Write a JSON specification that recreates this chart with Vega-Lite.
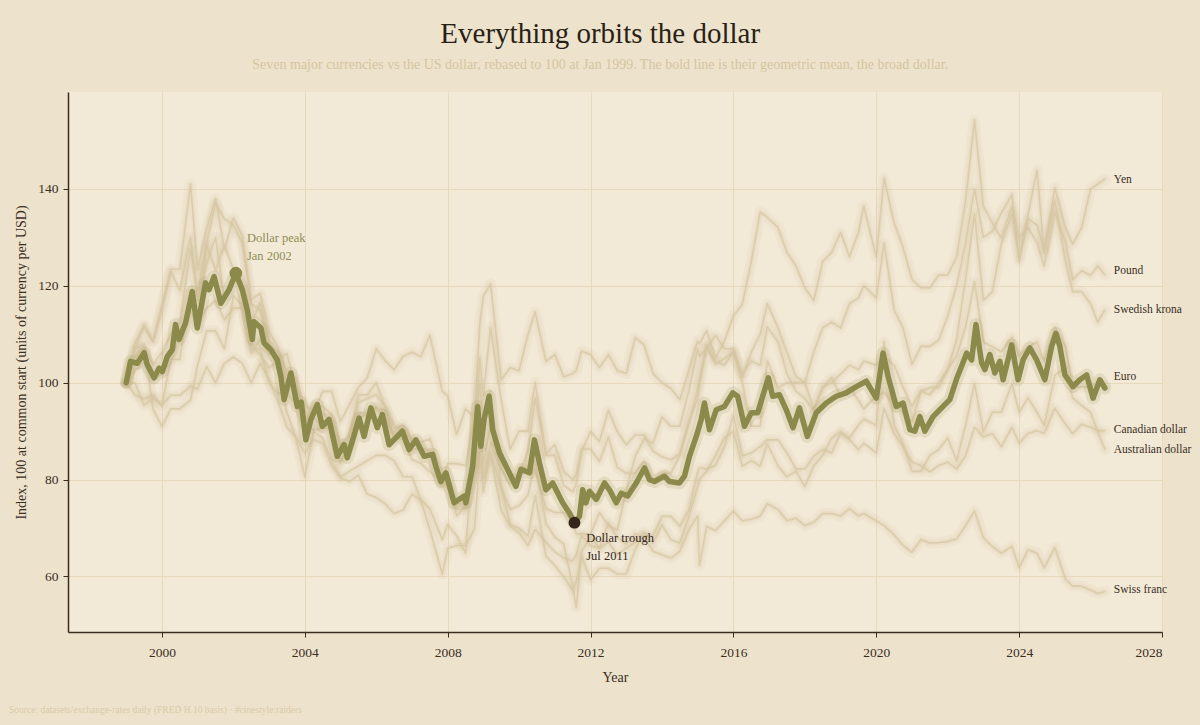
{
  "$schema": "https://vega.github.io/schema/vega-lite/v6.json",
  "width": 1094,
  "height": 540,
  "autosize": {"type": "none"},
  "padding": {"left": 68, "top": 92, "right": 38, "bottom": 93},
  "background": "#ede3cc",
  "title": {
    "text": "Everything orbits the dollar",
    "subtitle": "Seven major currencies vs the US dollar, rebased to 100 at Jan 1999. The bold line is their geometric mean, the broad dollar.",
    "anchor": "middle",
    "frame": "bounds",
    "offset": 20,
    "fontSize": 29,
    "fontWeight": "normal",
    "color": "#2a1f14",
    "subtitleFontSize": 14,
    "subtitleColor": "#d4c5a1",
    "subtitlePadding": 9,
    "font": "Liberation Serif",
    "subtitleFont": "Liberation Serif"
  },
  "config": {
    "font": "Liberation Serif",
    "view": {"fill": "#f2ead7", "stroke": null},
    "axis": {
      "domainColor": "#3b2e1e",
      "domainWidth": 1.5,
      "tickColor": "#3b2e1e",
      "tickSize": 5,
      "labelColor": "#3b2e1e",
      "labelFontSize": 13.5,
      "titleColor": "#3b2e1e",
      "titleFontSize": 14,
      "titleFontWeight": "normal",
      "gridColor": "#e6d9bc",
      "gridWidth": 1,
      "labelFont": "Liberation Serif",
      "titleFont": "Liberation Serif"
    }
  },
  "datasets": {
    "fx": [
      {"t":1999.0,"eur":100,"jpy":100,"gbp":100,"chf":100,"cad":100,"aud":100,"sek":100},
      {"t":1999.25,"eur":108.4,"jpy":107,"gbp":102.5,"chf":107,"cad":97.4,"aud":100,"sek":105},
      {"t":1999.5,"eur":111.5,"jpy":108,"gbp":104.4,"chf":112,"cad":96.7,"aud":95.3,"sek":107.5},
      {"t":1999.75,"eur":108.4,"jpy":94.6,"gbp":100.6,"chf":108.7,"cad":97.4,"aud":96.8,"sek":103.8},
      {"t":2000.0,"eur":114.9,"jpy":91,"gbp":101.9,"chf":116,"cad":95.4,"aud":95.3,"sek":106.3},
      {"t":2000.25,"eur":123.4,"jpy":94.6,"gbp":104.4,"chf":123,"cad":97.4,"aud":104.8,"sek":110},
      {"t":2000.5,"eur":123.4,"jpy":94.6,"gbp":110,"chf":119,"cad":97.4,"aud":104.8,"sek":112.5},
      {"t":2000.8,"eur":141,"jpy":96.4,"gbp":114.6,"chf":130,"cad":99.3,"aud":118.7,"sek":127.5},
      {"t":2001.0,"eur":123.4,"jpy":103.6,"gbp":112.2,"chf":117,"cad":98.7,"aud":112.3,"sek":118.8},
      {"t":2001.25,"eur":131.8,"jpy":110.7,"gbp":115.4,"chf":124.6,"cad":103.3,"aud":128.4,"sek":128.8},
      {"t":2001.5,"eur":138,"jpy":110.7,"gbp":117,"chf":130,"cad":100,"aud":123.3,"sek":137},
      {"t":2001.75,"eur":127.5,"jpy":107,"gbp":113,"chf":117,"cad":104,"aud":128.4,"sek":133.8},
      {"t":2002.0,"eur":134,"jpy":117.9,"gbp":115.4,"chf":121.7,"cad":105.3,"aud":123.3,"sek":132.5},
      {"t":2002.25,"eur":130.3,"jpy":116,"gbp":115.4,"chf":119.6,"cad":104,"aud":118.7,"sek":128.8},
      {"t":2002.5,"eur":117.2,"jpy":106,"gbp":107.8,"chf":107,"cad":100,"aud":112.3,"sek":116.3},
      {"t":2002.75,"eur":118.4,"jpy":109,"gbp":105.8,"chf":107,"cad":104,"aud":116.5,"sek":115},
      {"t":2003.0,"eur":110.5,"jpy":106,"gbp":103.1,"chf":100,"cad":100.7,"aud":108.4,"sek":107.5},
      {"t":2003.25,"eur":107.4,"jpy":105,"gbp":104.4,"chf":97.8,"cad":96,"aud":103.1,"sek":106.3},
      {"t":2003.5,"eur":101.8,"jpy":106,"gbp":100,"chf":97.8,"cad":90.8,"aud":93.9,"sek":100},
      {"t":2003.75,"eur":100.9,"jpy":99,"gbp":98.2,"chf":95.7,"cad":88.8,"aud":88.6,"sek":97.5},
      {"t":2004.0,"eur":92.1,"jpy":95.5,"gbp":91.7,"chf":89.9,"cad":85.5,"aud":80.6,"sek":91.3},
      {"t":2004.25,"eur":95.1,"jpy":93.8,"gbp":90.2,"chf":92.8,"cad":88.2,"aud":89.9,"sek":95},
      {"t":2004.5,"eur":95.1,"jpy":98.2,"gbp":90.7,"chf":90.6,"cad":87.5,"aud":88.6,"sek":93.8},
      {"t":2004.75,"eur":93.5,"jpy":98.2,"gbp":91.7,"chf":90.6,"cad":82.9,"aud":83.9,"sek":91.3},
      {"t":2005.0,"eur":87.2,"jpy":92,"gbp":86.8,"chf":83.3,"cad":80.3,"aud":80.6,"sek":83.8},
      {"t":2005.25,"eur":89.2,"jpy":95.5,"gbp":87.3,"chf":87,"cad":79.6,"aud":81.7,"sek":87.5},
      {"t":2005.5,"eur":95.9,"jpy":99,"gbp":93.8,"chf":92.8,"cad":80.9,"aud":82.8,"sek":97.5},
      {"t":2005.75,"eur":96.7,"jpy":101,"gbp":93.8,"chf":93.5,"cad":77,"aud":83.9,"sek":97.5},
      {"t":2006.0,"eur":97.5,"jpy":107,"gbp":94.8,"chf":95,"cad":76.3,"aud":85,"sek":100},
      {"t":2006.25,"eur":95.1,"jpy":104.5,"gbp":92.7,"chf":94.2,"cad":75,"aud":85,"sek":95},
      {"t":2006.5,"eur":90.6,"jpy":102.7,"gbp":89.2,"chf":88.4,"cad":73,"aud":83.9,"sek":91.3},
      {"t":2006.75,"eur":91.3,"jpy":105.4,"gbp":88.2,"chf":90.6,"cad":73.7,"aud":80.6,"sek":90},
      {"t":2007.0,"eur":87.9,"jpy":106.3,"gbp":84.2,"chf":88.4,"cad":77,"aud":80.6,"sek":86.3},
      {"t":2007.25,"eur":86.6,"jpy":105.4,"gbp":83.3,"chf":87.7,"cad":75.7,"aud":75.8,"sek":86.3},
      {"t":2007.5,"eur":85.9,"jpy":109.8,"gbp":81.7,"chf":88.4,"cad":69.7,"aud":74,"sek":85},
      {"t":2007.85,"eur":78.9,"jpy":98.2,"gbp":79.3,"chf":81.2,"cad":60.5,"aud":67.6,"sek":78.8},
      {"t":2008.0,"eur":78.9,"jpy":97.3,"gbp":83.3,"chf":80.4,"cad":65.8,"aud":70.7,"sek":80},
      {"t":2008.25,"eur":73.9,"jpy":89.3,"gbp":83.3,"chf":72.5,"cad":66.4,"aud":68.4,"sek":75},
      {"t":2008.5,"eur":73.9,"jpy":94.6,"gbp":82.9,"chf":74.6,"cad":66.4,"aud":64.8,"sek":75},
      {"t":2008.75,"eur":82.9,"jpy":92.9,"gbp":92.7,"chf":81.2,"cad":69.7,"aud":89.9,"sek":87.5},
      {"t":2008.9,"eur":91.3,"jpy":86,"gbp":112.2,"chf":86.2,"cad":84.2,"aud":99.8,"sek":105},
      {"t":2009.0,"eur":83.5,"jpy":80.4,"gbp":117.9,"chf":77.5,"cad":80.3,"aud":91.2,"sek":97.5},
      {"t":2009.2,"eur":91.3,"jpy":87.5,"gbp":120.4,"chf":85.5,"cad":84.9,"aud":98.3,"sek":111.3},
      {"t":2009.5,"eur":82.3,"jpy":85.7,"gbp":100.6,"chf":78.3,"cad":73.7,"aud":78.6,"sek":96.3},
      {"t":2009.75,"eur":78.9,"jpy":80.4,"gbp":103.1,"chf":73.9,"cad":70.4,"aud":70.7,"sek":86.3},
      {"t":2010.0,"eur":81.1,"jpy":81.3,"gbp":102.5,"chf":74.6,"cad":69,"aud":69.9,"sek":90},
      {"t":2010.25,"eur":85.9,"jpy":83,"gbp":110,"chf":76.8,"cad":66.4,"aud":68.4,"sek":90},
      {"t":2010.45,"eur":96.7,"jpy":82,"gbp":114.6,"chf":84,"cad":69.7,"aud":76.7,"sek":100},
      {"t":2010.75,"eur":85.3,"jpy":74.1,"gbp":104.4,"chf":71,"cad":67.1,"aud":64.2,"sek":85},
      {"t":2011.0,"eur":87.2,"jpy":73.2,"gbp":105.8,"chf":68.1,"cad":65.1,"aud":62.3,"sek":85},
      {"t":2011.25,"eur":81.7,"jpy":73.2,"gbp":101.2,"chf":66.7,"cad":63.8,"aud":59.9,"sek":78.8},
      {"t":2011.5,"eur":80,"jpy":71.4,"gbp":101.9,"chf":58,"cad":63.2,"aud":57.2,"sek":77.5},
      {"t":2011.6,"eur":81,"jpy":68.8,"gbp":102.5,"chf":53.6,"cad":64.5,"aud":59,"sek":79},
      {"t":2011.75,"eur":85.9,"jpy":68.8,"gbp":106.5,"chf":65.2,"cad":68.4,"aud":64.2,"sek":86.3},
      {"t":2012.0,"eur":89.9,"jpy":68.8,"gbp":105.8,"chf":68.1,"cad":66.4,"aud":59.3,"sek":86.3},
      {"t":2012.25,"eur":87.9,"jpy":73.2,"gbp":103.1,"chf":65.9,"cad":65.8,"aud":61.7,"sek":83.8},
      {"t":2012.5,"eur":94.3,"jpy":70.5,"gbp":105.8,"chf":71,"cad":67.1,"aud":61.7,"sek":88.8},
      {"t":2012.75,"eur":89.9,"jpy":69.6,"gbp":102.5,"chf":68.1,"cad":64.5,"aud":60.5,"sek":82.5},
      {"t":2013.0,"eur":87.2,"jpy":77.7,"gbp":101.9,"chf":66.7,"cad":65.8,"aud":60.5,"sek":81.3},
      {"t":2013.25,"eur":89.2,"jpy":84.8,"gbp":109.3,"chf":68.8,"cad":67.1,"aud":65.5,"sek":81.3},
      {"t":2013.5,"eur":89.2,"jpy":88.4,"gbp":107.8,"chf":68.1,"cad":68.4,"aud":69.1,"sek":83.8},
      {"t":2013.75,"eur":85.9,"jpy":87.5,"gbp":101.9,"chf":65.2,"cad":68.4,"aud":66.9,"sek":80},
      {"t":2014.0,"eur":84.7,"jpy":92.9,"gbp":100,"chf":64.5,"cad":72.4,"aud":70.7,"sek":81.3},
      {"t":2014.25,"eur":84.1,"jpy":91,"gbp":98.8,"chf":63.8,"cad":72.4,"aud":67.6,"sek":81.3},
      {"t":2014.5,"eur":85.3,"jpy":91,"gbp":96.5,"chf":65.2,"cad":70.4,"aud":66.9,"sek":85},
      {"t":2014.75,"eur":92.1,"jpy":98.2,"gbp":102.5,"chf":69.6,"cad":73.7,"aud":72.3,"sek":91.3},
      {"t":2015.0,"eur":96.7,"jpy":107,"gbp":108.6,"chf":72.5,"cad":81.6,"aud":78.6,"sek":98.8},
      {"t":2015.05,"eur":99.5,"jpy":105.5,"gbp":108,"chf":62.3,"cad":82.5,"aud":80,"sek":101},
      {"t":2015.25,"eur":107.4,"jpy":107,"gbp":110.7,"chf":70.3,"cad":82.2,"aud":81.7,"sek":107.5},
      {"t":2015.5,"eur":104.5,"jpy":109.8,"gbp":105.1,"chf":69.5,"cad":82.9,"aud":85,"sek":103.8},
      {"t":2015.75,"eur":103.6,"jpy":107,"gbp":108.6,"chf":71.5,"cad":86.8,"aud":88.6,"sek":105},
      {"t":2016.0,"eur":106.4,"jpy":107,"gbp":113.8,"chf":73.5,"cad":93.4,"aud":89.9,"sek":106.3},
      {"t":2016.25,"eur":101.8,"jpy":100,"gbp":116.2,"chf":71.5,"cad":84.9,"aud":82.8,"sek":101.3},
      {"t":2016.5,"eur":104.5,"jpy":91,"gbp":125,"chf":71.8,"cad":85.5,"aud":83.9,"sek":106.3},
      {"t":2016.75,"eur":103.6,"jpy":91,"gbp":135.2,"chf":72.5,"cad":86.8,"aud":82.8,"sek":110},
      {"t":2016.95,"eur":111.5,"jpy":104.5,"gbp":134.1,"chf":75,"cad":88.2,"aud":87.4,"sek":116.3},
      {"t":2017.25,"eur":108.4,"jpy":99,"gbp":132,"chf":73.8,"cad":88.2,"aud":82.8,"sek":111.3},
      {"t":2017.5,"eur":101.8,"jpy":100,"gbp":126.9,"chf":71.5,"cad":85.5,"aud":80.6,"sek":106.3},
      {"t":2017.75,"eur":98.3,"jpy":100,"gbp":124.1,"chf":72,"cad":82.2,"aud":81.7,"sek":101.3},
      {"t":2018.0,"eur":96.7,"jpy":100,"gbp":119.6,"chf":70.5,"cad":82.2,"aud":78.6,"sek":100},
      {"t":2018.25,"eur":94.3,"jpy":94.6,"gbp":117,"chf":71.2,"cad":84.9,"aud":82.8,"sek":106.3},
      {"t":2018.5,"eur":99.1,"jpy":99,"gbp":125,"chf":73,"cad":86.2,"aud":85,"sek":111.3},
      {"t":2018.75,"eur":100,"jpy":101,"gbp":126.9,"chf":73,"cad":85.5,"aud":88.6,"sek":112.5},
      {"t":2019.0,"eur":101.8,"jpy":97.3,"gbp":131,"chf":72.5,"cad":89.5,"aud":89.9,"sek":111.3},
      {"t":2019.25,"eur":103.6,"jpy":99,"gbp":126,"chf":74,"cad":88.2,"aud":88.6,"sek":116.3},
      {"t":2019.5,"eur":102.7,"jpy":96.4,"gbp":131,"chf":72.5,"cad":86.2,"aud":91.2,"sek":117.5},
      {"t":2019.65,"eur":104.5,"jpy":94.6,"gbp":136.4,"chf":73,"cad":87.5,"aud":92.5,"sek":120},
      {"t":2020.0,"eur":103.6,"jpy":97.3,"gbp":126,"chf":71.5,"cad":85.5,"aud":91.2,"sek":117.5},
      {"t":2020.22,"eur":105.5,"jpy":98,"gbp":142.2,"chf":70.5,"cad":94.7,"aud":108.4,"sek":128.8},
      {"t":2020.5,"eur":103.6,"jpy":95.5,"gbp":133,"chf":68.6,"cad":89.5,"aud":91.2,"sek":115},
      {"t":2020.75,"eur":99.1,"jpy":93.8,"gbp":127.9,"chf":66.4,"cad":86.8,"aud":87.4,"sek":111.3},
      {"t":2021.0,"eur":95.1,"jpy":92,"gbp":121.3,"chf":65,"cad":83.6,"aud":81.7,"sek":103.8},
      {"t":2021.25,"eur":98.3,"jpy":98.2,"gbp":119.6,"chf":67.6,"cad":82.9,"aud":81.7,"sek":107.5},
      {"t":2021.5,"eur":97.5,"jpy":99,"gbp":119.6,"chf":66.9,"cad":81.6,"aud":85,"sek":107.5},
      {"t":2021.75,"eur":100,"jpy":99,"gbp":122.2,"chf":67,"cad":82.9,"aud":86.2,"sek":108.8},
      {"t":2022.0,"eur":102.7,"jpy":102.7,"gbp":122.2,"chf":67.2,"cad":83.6,"aud":88.6,"sek":113.8},
      {"t":2022.25,"eur":105.5,"jpy":109,"gbp":126,"chf":67.8,"cad":82.2,"aud":83.9,"sek":120},
      {"t":2022.5,"eur":111.5,"jpy":121.4,"gbp":137.5,"chf":70.5,"cad":84.9,"aud":91.2,"sek":128.8},
      {"t":2022.75,"eur":120.8,"jpy":134.8,"gbp":154.2,"chf":73.5,"cad":90.8,"aud":99.8,"sek":140},
      {"t":2023.0,"eur":108.4,"jpy":117,"gbp":136.4,"chf":68,"cad":88.8,"aud":89.9,"sek":130},
      {"t":2023.25,"eur":107.4,"jpy":118.8,"gbp":133,"chf":66.2,"cad":89.5,"aud":93.9,"sek":131.3},
      {"t":2023.5,"eur":106.4,"jpy":128.6,"gbp":129.9,"chf":64.8,"cad":86.8,"aud":93.9,"sek":135},
      {"t":2023.8,"eur":109.4,"jpy":134.8,"gbp":136.4,"chf":66.2,"cad":90.8,"aud":99.8,"sek":138.8},
      {"t":2024.0,"eur":105.5,"jpy":125.9,"gbp":129.9,"chf":61.8,"cad":87.5,"aud":93.9,"sek":125},
      {"t":2024.25,"eur":107.4,"jpy":134.8,"gbp":132,"chf":65.5,"cad":89.5,"aud":96.8,"sek":133.8},
      {"t":2024.5,"eur":108.4,"jpy":143.8,"gbp":128.9,"chf":64.8,"cad":90.1,"aud":93.9,"sek":132.5},
      {"t":2024.7,"eur":104.5,"jpy":126.8,"gbp":124.1,"chf":61.8,"cad":89.5,"aud":91.2,"sek":127.5},
      {"t":2025.0,"eur":111.5,"jpy":140.2,"gbp":135.2,"chf":66,"cad":94.7,"aud":101.5,"sek":137.5},
      {"t":2025.3,"eur":107.4,"jpy":132,"gbp":128.9,"chf":59.4,"cad":91.4,"aud":103.1,"sek":125},
      {"t":2025.5,"eur":99.1,"jpy":128.6,"gbp":121.3,"chf":58,"cad":89.5,"aud":96.8,"sek":118.8},
      {"t":2025.75,"eur":99.1,"jpy":132,"gbp":123.1,"chf":58,"cad":91.4,"aud":95.3,"sek":118.8},
      {"t":2026.0,"eur":99.1,"jpy":140,"gbp":122.2,"chf":57.2,"cad":90.8,"aud":93.9,"sek":116.3},
      {"t":2026.2,"eur":100,"jpy":141,"gbp":124.1,"chf":56.5,"cad":90.1,"aud":89.9,"sek":112.5},
      {"t":2026.4,"eur":99.1,"jpy":142,"gbp":122.2,"chf":56.9,"cad":90.1,"aud":86.2,"sek":115}
    ],
    "broad": [
      {"t":1999.0,"v":100},{"t":1999.12,"v":104.4},{"t":1999.31,"v":104},{"t":1999.5,"v":106.2},
      {"t":1999.59,"v":103.7},{"t":1999.78,"v":101},{"t":1999.92,"v":103},{"t":2000.01,"v":102.3},
      {"t":2000.15,"v":105.4},{"t":2000.29,"v":106.8},{"t":2000.38,"v":112},{"t":2000.48,"v":108.9},
      {"t":2000.66,"v":112.3},{"t":2000.85,"v":118.8},{"t":2000.99,"v":111.3},{"t":2001.22,"v":120.6},
      {"t":2001.32,"v":119.2},{"t":2001.46,"v":121.9},{"t":2001.65,"v":116.4},{"t":2001.88,"v":119.2},
      {"t":2002.07,"v":122.6},{"t":2002.25,"v":119.2},{"t":2002.39,"v":115},{"t":2002.53,"v":108.9},
      {"t":2002.58,"v":112.6},{"t":2002.77,"v":111.3},{"t":2002.86,"v":108.2},{"t":2003.05,"v":106.8},
      {"t":2003.23,"v":104.7},{"t":2003.33,"v":101.3},{"t":2003.42,"v":96.5},{"t":2003.61,"v":102},
      {"t":2003.79,"v":95.1},{"t":2003.9,"v":96},{"t":2004.03,"v":88.2},{"t":2004.17,"v":92.4},
      {"t":2004.35,"v":95.5},{"t":2004.49,"v":91},{"t":2004.68,"v":92.4},{"t":2004.91,"v":84.8},
      {"t":2005.1,"v":87.2},{"t":2005.19,"v":84.5},{"t":2005.33,"v":87.9},{"t":2005.52,"v":92.7},
      {"t":2005.66,"v":88.9},{"t":2005.85,"v":94.8},{"t":2006.03,"v":90.7},{"t":2006.17,"v":93.4},
      {"t":2006.36,"v":87.2},{"t":2006.55,"v":88.6},{"t":2006.73,"v":90},{"t":2006.92,"v":86.2},
      {"t":2007.11,"v":88.2},{"t":2007.34,"v":84.8},{"t":2007.58,"v":85.2},{"t":2007.67,"v":82.7},
      {"t":2007.81,"v":79.6},{"t":2007.95,"v":81.4},{"t":2008.18,"v":75.2},{"t":2008.46,"v":76.6},
      {"t":2008.51,"v":75.2},{"t":2008.7,"v":82.7},{"t":2008.84,"v":95.1},{"t":2008.93,"v":86.9},
      {"t":2009.02,"v":92.4},{"t":2009.16,"v":97.2},{"t":2009.26,"v":90.3},{"t":2009.45,"v":85.5},
      {"t":2009.68,"v":82.1},{"t":2009.91,"v":78.6},{"t":2010.05,"v":82.1},{"t":2010.29,"v":81.4},
      {"t":2010.43,"v":88.2},{"t":2010.57,"v":83.4},{"t":2010.75,"v":77.9},{"t":2010.94,"v":79.3},
      {"t":2011.22,"v":75.2},{"t":2011.41,"v":73.1},{"t":2011.55,"v":71.1},{"t":2011.69,"v":72.4},
      {"t":2011.78,"v":77.9},{"t":2011.87,"v":75.2},{"t":2011.97,"v":77.6},{"t":2012.16,"v":75.9},
      {"t":2012.39,"v":79.3},{"t":2012.53,"v":77.9},{"t":2012.72,"v":75.2},{"t":2012.86,"v":77.2},
      {"t":2013.04,"v":76.6},{"t":2013.28,"v":79.3},{"t":2013.51,"v":82.4},{"t":2013.65,"v":80},
      {"t":2013.79,"v":79.6},{"t":2014.07,"v":80.7},{"t":2014.21,"v":79.6},{"t":2014.49,"v":79.3},
      {"t":2014.63,"v":80.7},{"t":2014.77,"v":84.8},{"t":2014.96,"v":88.9},{"t":2015.1,"v":92.4},
      {"t":2015.19,"v":95.8},{"t":2015.33,"v":90.3},{"t":2015.52,"v":94.4},{"t":2015.75,"v":95.1},
      {"t":2015.98,"v":97.9},{"t":2016.12,"v":97.2},{"t":2016.31,"v":91},{"t":2016.5,"v":93.8},
      {"t":2016.68,"v":93.8},{"t":2016.82,"v":97.2},{"t":2016.98,"v":101},{"t":2017.1,"v":97.2},
      {"t":2017.29,"v":97.5},{"t":2017.48,"v":94.4},{"t":2017.67,"v":90.7},{"t":2017.85,"v":94.8},
      {"t":2018.07,"v":88.9},{"t":2018.32,"v":93.8},{"t":2018.6,"v":95.8},{"t":2018.88,"v":97.2},
      {"t":2019.16,"v":97.9},{"t":2019.44,"v":99.2},{"t":2019.72,"v":100.3},{"t":2020.0,"v":96.8},
      {"t":2020.19,"v":106.1},{"t":2020.33,"v":101.3},{"t":2020.56,"v":95.1},{"t":2020.75,"v":95.8},
      {"t":2020.94,"v":90.3},{"t":2021.08,"v":90},{"t":2021.22,"v":93},{"t":2021.36,"v":90},
      {"t":2021.59,"v":93},{"t":2021.87,"v":95.1},{"t":2022.06,"v":96.5},{"t":2022.24,"v":100.6},
      {"t":2022.53,"v":106.1},{"t":2022.67,"v":104.7},{"t":2022.79,"v":112},{"t":2022.95,"v":104.1},
      {"t":2023.04,"v":102.7},{"t":2023.18,"v":105.8},{"t":2023.32,"v":102},{"t":2023.46,"v":104.4},
      {"t":2023.55,"v":100.6},{"t":2023.79,"v":107.8},{"t":2023.97,"v":100.6},{"t":2024.11,"v":104.7},
      {"t":2024.3,"v":107.2},{"t":2024.49,"v":104.7},{"t":2024.72,"v":100.6},{"t":2024.91,"v":107.5},
      {"t":2025.03,"v":110.2},{"t":2025.14,"v":107.5},{"t":2025.28,"v":101.6},{"t":2025.51,"v":99.2},
      {"t":2025.7,"v":100.6},{"t":2025.89,"v":101.6},{"t":2026.07,"v":96.8},{"t":2026.26,"v":100.6},
      {"t":2026.4,"v":98.9}
    ],
    "labels": [
      {"name":"Yen","t":2026.65,"v":141.9},
      {"name":"Pound","t":2026.65,"v":123.1},
      {"name":"Swedish krona","t":2026.65,"v":115.1},
      {"name":"Euro","t":2026.65,"v":101.2},
      {"name":"Canadian dollar","t":2026.65,"v":90.3},
      {"name":"Australian dollar","t":2026.65,"v":86.2},
      {"name":"Swiss franc","t":2026.65,"v":57.3}
    ],
    "peak": [{"t":2002.07,"v":122.6}],
    "trough": [{"t":2011.55,"v":71.1}],
    "peaknote": [
      {"line":"Dollar peak","t":2002.38,"v":129.9},
      {"line":"Jan 2002","t":2002.38,"v":126.2}
    ],
    "troughnote": [
      {"line":"Dollar trough","t":2011.88,"v":68.0},
      {"line":"Jul 2011","t":2011.88,"v":64.3}
    ],
    "footer": [
      {"line":"Source: datasets/exchange-rates daily (FRED H.10 basis)  ·  #cinestyle:raiders","t":1995.72,"v":32.4}
    ]
  },
  "encoding": {
    "x": {
      "field": "t",
      "type": "quantitative",
      "title": "Year",
      "scale": {"domain": [1997.37, 2028], "nice": false, "zero": false},
      "axis": {"values": [2000, 2004, 2008, 2012, 2016, 2020, 2024, 2028], "format": "d", "labelPadding": 8, "titlePadding": 12}
    },
    "y": {
      "field": "v",
      "type": "quantitative",
      "title": "Index, 100 at common start (units of currency per USD)",
      "scale": {"domain": [48.54, 160], "nice": false, "zero": false},
      "axis": {"values": [60, 80, 100, 120, 140], "labelPadding": 5, "titlePadding": 9}
    }
  },
  "layer": [
    {
      "data": {"name": "fx"},
      "transform": [{"fold": ["eur", "jpy", "gbp", "chf", "cad", "aud", "sek"], "as": ["c", "v"]}],
      "mark": {"type": "line", "strokeWidth": 11, "color": "#c7b183", "opacity": 0.09, "strokeJoin": "round", "strokeCap": "round", "clip": true},
      "encoding": {"detail": {"field": "c"}}
    },
    {
      "data": {"name": "fx"},
      "transform": [{"fold": ["eur", "jpy", "gbp", "chf", "cad", "aud", "sek"], "as": ["c", "v"]}],
      "mark": {"type": "line", "strokeWidth": 5, "color": "#c7b183", "opacity": 0.1, "strokeJoin": "round", "strokeCap": "round", "clip": true},
      "encoding": {"detail": {"field": "c"}}
    },
    {
      "data": {"name": "fx"},
      "transform": [{"fold": ["eur", "jpy", "gbp", "chf", "cad", "aud", "sek"], "as": ["c", "v"]}],
      "mark": {"type": "line", "strokeWidth": 1.6, "color": "#d6c6a1", "opacity": 0.75, "strokeJoin": "round", "clip": true},
      "encoding": {"detail": {"field": "c"}}
    },
    {
      "mark": {"type": "rule", "color": "#6e604c", "strokeWidth": 1},
      "encoding": {"y": {"datum": 100}, "x": {"datum": 1997.37}, "x2": {"datum": 2028}}
    },
    {
      "data": {"name": "broad"},
      "mark": {"type": "line", "strokeWidth": 13, "color": "#a1935a", "opacity": 0.18, "strokeJoin": "round", "strokeCap": "round"},
      "encoding": {}
    },
    {
      "data": {"name": "broad"},
      "mark": {"type": "line", "strokeWidth": 5.5, "color": "#8b8a4b", "strokeJoin": "round", "strokeCap": "round"},
      "encoding": {}
    },
    {
      "data": {"name": "peak"},
      "mark": {"type": "point", "filled": true, "size": 160, "color": "#8b8a4b", "opacity": 1}
    },
    {
      "data": {"name": "trough"},
      "mark": {"type": "point", "filled": true, "size": 140, "color": "#34261a", "opacity": 1}
    },
    {
      "data": {"name": "peaknote"},
      "mark": {"type": "text", "align": "left", "baseline": "middle", "fontSize": 12.5, "color": "#8f8c55"},
      "encoding": {"text": {"field": "line"}}
    },
    {
      "data": {"name": "troughnote"},
      "mark": {"type": "text", "align": "left", "baseline": "middle", "fontSize": 12.5, "color": "#34261a"},
      "encoding": {"text": {"field": "line"}}
    },
    {
      "data": {"name": "labels"},
      "mark": {"type": "text", "align": "left", "baseline": "middle", "fontSize": 11.5, "color": "#3a2d1d"},
      "encoding": {"text": {"field": "name"}}
    },
    {
      "data": {"name": "footer"},
      "mark": {"type": "text", "align": "left", "baseline": "middle", "fontSize": 9.5, "color": "#d8caa8"},
      "encoding": {"text": {"field": "line"}}
    }
  ]
}
